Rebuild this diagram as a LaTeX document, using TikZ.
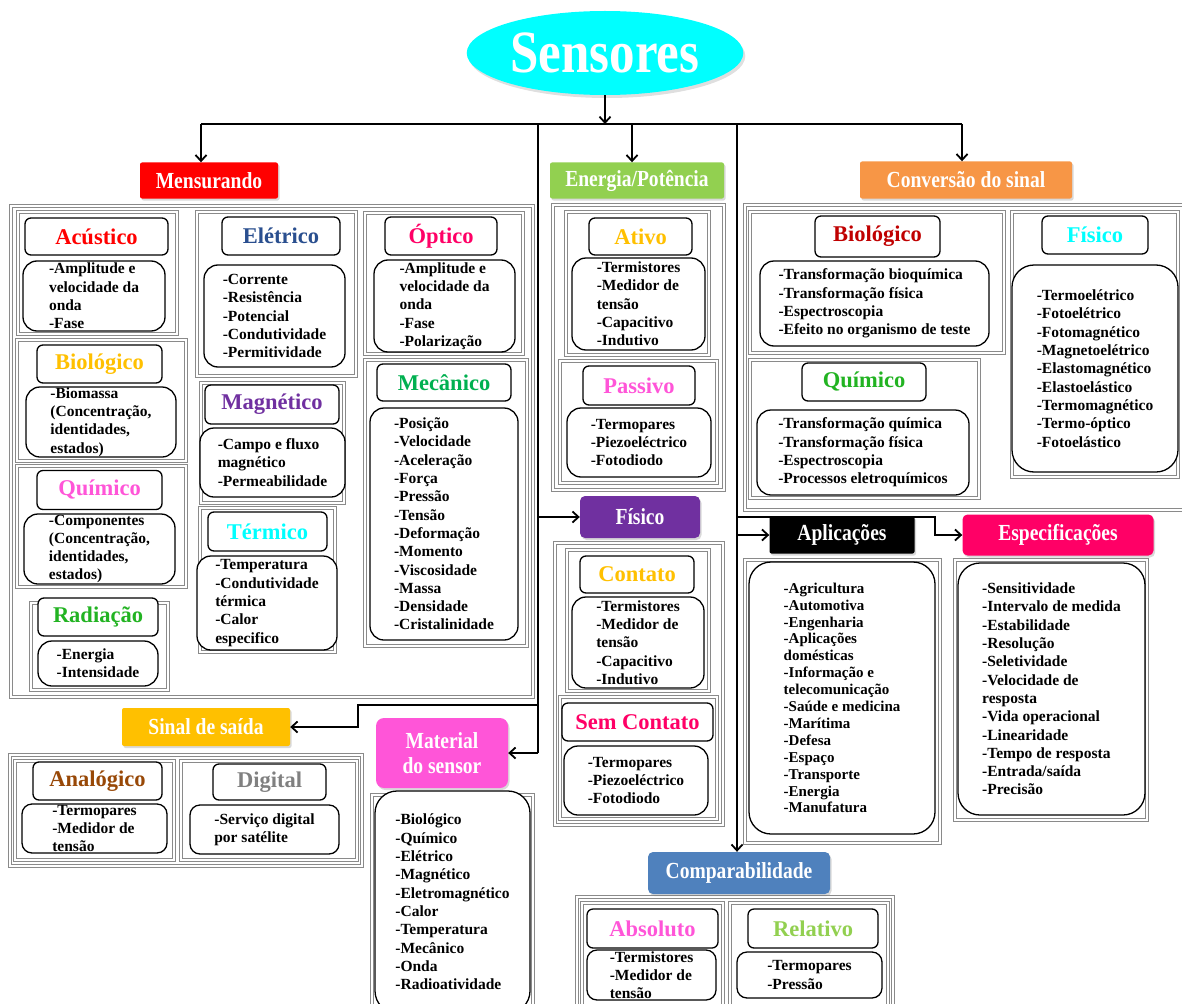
\documentclass[tikz,border=0pt]{standalone}
\usepackage{fontspec}
\setmainfont{Liberation Serif}
\newfontfamily\estreita[FakeStretch=0.85]{Liberation Serif}
\usetikzlibrary{shapes.geometric,arrows.meta,shadows}

\definecolor{ciano}{HTML}{00FFFF}
\definecolor{vermelho}{HTML}{FF0000}
\definecolor{verdeclaro}{HTML}{92D050}
\definecolor{laranja}{HTML}{F79646}
\definecolor{roxo}{HTML}{7030A0}
\definecolor{rosa}{HTML}{FF0066}
\definecolor{ouro}{HTML}{FFC000}
\definecolor{magenta}{HTML}{FF55D8}
\definecolor{azulaco}{HTML}{4F81BD}
\definecolor{azulescuro}{HTML}{2A4F8F}
\definecolor{verde}{HTML}{00B050}
\definecolor{verdevivo}{HTML}{22B322}
\definecolor{vinho}{HTML}{C00000}
\definecolor{marrom}{HTML}{984807}
\definecolor{cinza}{HTML}{808080}
\definecolor{borda}{HTML}{8A8A8A}

\tikzset{
  cabeca/.style={rectangle, rounded corners=2pt, text=white, align=center,
    font=\estreita\bfseries\fontsize{23}{25}\selectfont,
    drop shadow={opacity=0.3, shadow xshift=1.5pt, shadow yshift=-2pt}},
  titulo/.style={draw, line width=1.3pt, rounded corners=6pt, fill=white, inner sep=0pt,
    font=\bfseries\fontsize{22.5}{26}\selectfont},
  lista/.style={draw, line width=1.3pt, rounded corners=14pt, fill=white, inner sep=0pt,
    align=left, font=\bfseries\fontsize{15.5}{18.3}\selectfont},
  moldura/.style={draw=borda, line width=1pt, double=white, double distance=1.1pt},
  linha/.style={line width=1.8pt},
  seta/.style={line width=1.8pt, -{Straight Barb[length=6pt,width=11pt]}}
}

\begin{document}
\begin{tikzpicture}[x=1pt, y=-1pt]
\useasboundingbox (0,0) rectangle (1182,1003);

% molduras
\draw[moldura] (11,206) rectangle (533,697);
\draw[moldura] (18,212) rectangle (177,334);
\draw[moldura] (17,340) rectangle (186,461);
\draw[moldura] (17,466) rectangle (186,587);
\draw[moldura] (31,603) rectangle (168,690);
\draw[moldura] (197,212) rectangle (356,376);
\draw[moldura] (201,383) rectangle (344,503);
\draw[moldura] (200,508) rectangle (335,652);
\draw[moldura] (365,213) rectangle (523,354);
\draw[moldura] (365,360) rectangle (527,646);
\draw[moldura] (553,205) rectangle (724,490);
\draw[moldura] (566,212) rectangle (709,355);
\draw[moldura] (560,361) rectangle (717,483);
\draw[moldura] (555,543) rectangle (723,825);
\draw[moldura] (567,550) rectangle (709,691);
\draw[moldura] (560,697) rectangle (717,819);
\draw[moldura] (745,205) rectangle (1190,510);
\draw[moldura] (750,212) rectangle (1004,353);
\draw[moldura] (750,360) rectangle (979,498);
\draw[moldura] (1012,212) rectangle (1178,477);
\draw[moldura] (745,560) rectangle (940,843);
\draw[moldura] (955,560) rectangle (1147,820);
\draw[moldura] (10,755) rectangle (362,866);
\draw[moldura] (15,761) rectangle (174,860);
\draw[moldura] (181,761) rectangle (357,860);
\draw[moldura] (372,795) rectangle (533,1010);
\draw[moldura] (577,897) rectangle (893,1010);
\draw[moldura] (582,903) rectangle (723,1010);
\draw[moldura] (730,903) rectangle (888,1010);

% cabecalhos
\node[ellipse, fill=ciano, minimum width=272, minimum height=84, text=white,
  font=\estreita\bfseries\fontsize{60}{60}\selectfont,
  drop shadow={opacity=0.25, shadow xshift=2pt, shadow yshift=-3pt}] (sensores) at (605,53) {Sensores};
\node[cabeca, fill=vermelho, minimum width=138, minimum height=36] (mensurando) at (209,180.5) {Mensurando};
\node[cabeca, fill=verdeclaro, minimum width=174, minimum height=36] (energia) at (637,180.5) {Energia/Potência};
\node[cabeca, fill=laranja, minimum width=212, minimum height=37] (conversao) at (966,180) {Conversão do sinal};
\node[cabeca, fill=roxo, rounded corners=5pt, minimum width=120, minimum height=42] (fisico) at (640,517) {Físico};
\node[cabeca, fill=black, minimum width=145, minimum height=37] (aplicacoes) at (842,535) {Aplicações};
\node[cabeca, fill=rosa, rounded corners=5pt, minimum width=191, minimum height=41] (especificacoes) at (1058,535) {Especificações};
\node[cabeca, fill=ouro, minimum width=168, minimum height=38] (sinal) at (206,727) {Sinal de saída};
\node[cabeca, fill=magenta, rounded corners=8pt, minimum width=132, minimum height=70] (material) at (442,753) {Material\\do sensor};
\node[cabeca, fill=azulaco, rounded corners=5pt, minimum width=182, minimum height=42] (comparab) at (739,873) {Comparabilidade};

% ligacoes
\coordinate (barraE) at (201,124);
\coordinate (barraM) at (632,124);
\coordinate (barraD) at (962,124);
\coordinate (troncoA) at (538,124);
\coordinate (troncoB) at (737,124);
\coordinate (desvio) at (358,705);
\coordinate (dobra) at (935,517);
\draw[seta] (sensores.south) -- (sensores.south |- barraE);
\draw[linha] (barraE) -- (barraD);
\draw[seta] (barraE) -- (barraE |- mensurando.north);
\draw[seta] (barraM) -- (barraM |- energia.north);
\draw[seta] (barraD) -- (barraD |- conversao.north);
\draw[linha] (troncoA) -- (troncoA |- material.east);
\draw[seta] (troncoA |- fisico.west) -- (fisico.west);
\draw[seta] (troncoA |- material.east) -- (material.east);
\draw[seta] (troncoA |- desvio) -- (desvio) |- (sinal.east);
\draw[seta] (troncoB) -- (troncoB |- comparab.north);
\draw[seta] (troncoB |- aplicacoes.west) -- (aplicacoes.west);
\draw[seta] (troncoB |- dobra) -- (dobra) |- (especificacoes.west);

% mensurando
\node[titulo, text=vermelho, minimum width=143, minimum height=37] (acusticoT) at (96.5,236.5) {Acústico};
\node[lista, minimum width=142, minimum height=70] (acusticoL) at (94,296) {-Amplitude e\\velocidade da\\onda\\-Fase};
\node[titulo, text=ouro, minimum width=125, minimum height=38] (biologicoT) at (99.5,364) {Biológico};
\node[lista, minimum width=150, minimum height=70] (biologicoL) at (101,422) {-Biomassa\\(Concentração,\\identidades,\\estados)};
\node[titulo, text=magenta, minimum width=125, minimum height=39] (quimicoT) at (99.5,490) {Químico};
\node[lista, minimum width=151, minimum height=70] (quimicoL) at (99.5,549) {-Componentes\\(Concentração,\\identidades,\\estados)};
\node[titulo, text=verdevivo, minimum width=120, minimum height=38] (radiacaoT) at (98,617) {Radiação};
\node[lista, minimum width=120, minimum height=45] (radiacaoL) at (98,663.5) {-Energia\\-Intensidade};
\node[titulo, text=azulescuro, minimum width=118, minimum height=38] (eletricoT) at (281,236) {Elétrico};
\node[lista, minimum width=141, minimum height=102] (eletricoL) at (274.5,316) {-Corrente\\-Resistência\\-Potencial\\-Condutividade\\-Permitividade};
\node[titulo, text=roxo, minimum width=134, minimum height=39] (magneticoT) at (272,404.5) {Magnético};
\node[lista, minimum width=145, minimum height=69] (magneticoL) at (272.5,462.5) {-Campo e fluxo\\magnético\\-Permeabilidade};
\node[titulo, text=ciano, minimum width=119, minimum height=39] (termicoT) at (267.5,531.5) {Térmico};
\node[lista, minimum width=140, minimum height=94] (termicoL) at (267,603) {-Temperatura\\-Condutividade\\térmica\\-Calor\\especifico};
\node[titulo, text=rosa, minimum width=112, minimum height=38] (opticoT) at (441,236) {Óptico};
\node[lista, minimum width=141, minimum height=92] (opticoL) at (444.5,306) {-Amplitude e\\velocidade da\\onda\\-Fase\\-Polarização};
\node[titulo, text=verde, minimum width=134, minimum height=37] (mecanicoT) at (444,382.5) {Mecânico};
\node[lista, minimum width=148, minimum height=232] (mecanicoL) at (444,524) {-Posição\\-Velocidade\\-Aceleração\\-Força\\-Pressão\\-Tensão\\-Deformação\\-Momento\\-Viscosidade\\-Massa\\-Densidade\\-Cristalinidade};

% energia
\node[titulo, text=ouro, minimum width=103, minimum height=37] (ativoT) at (640.5,236.5) {Ativo};
\node[lista, minimum width=133, minimum height=92] (ativoL) at (638.5,304) {-Termistores\\-Medidor de\\tensão\\-Capacitivo\\-Indutivo};
\node[titulo, text=magenta, minimum width=112, minimum height=39] (passivoT) at (639,385.5) {Passivo};
\node[lista, minimum width=144, minimum height=69] (passivoL) at (639,442.5) {-Termopares\\-Piezoeléctrico\\-Fotodiodo};

% fisico
\node[titulo, text=ouro, minimum width=114, minimum height=37] (contatoT) at (637,574.5) {Contato};
\node[lista, minimum width=132, minimum height=91] (contatoL) at (638,642.5) {-Termistores\\-Medidor de\\tensão\\-Capacitivo\\-Indutivo};
\node[titulo, text=rosa, minimum width=151, minimum height=38] (semcontatoT) at (637.5,722) {Sem Contato};
\node[lista, minimum width=144, minimum height=69] (semcontatoL) at (636,780.5) {-Termopares\\-Piezoeléctrico\\-Fotodiodo};

% conversao do sinal
\node[titulo, text=vinho, minimum width=125, minimum height=41] (biologicoCT) at (877.5,236.5) {Biológico};
\node[lista, minimum width=229, minimum height=85] (biologicoCL) at (874.5,303.5) {-Transformação bioquímica\\-Transformação física\\-Espectroscopia\\-Efeito no organismo de teste};
\node[titulo, text=verdevivo, minimum width=124, minimum height=38] (quimicoCT) at (864,382) {Químico};
\node[lista, minimum width=212, minimum height=85] (quimicoCL) at (863,452.5) {-Transformação química\\-Transformação física\\-Espectroscopia\\-Processos eletroquímicos};
\node[titulo, text=ciano, minimum width=106, minimum height=38] (fisicoCT) at (1095,235) {Físico};
\node[lista, rounded corners=22pt, minimum width=166, minimum height=207] (fisicoCL) at (1095,368.5) {-Termoelétrico\\-Fotoelétrico\\-Fotomagnético\\-Magnetoelétrico\\-Elastomagnético\\-Elastoelástico\\-Termomagnético\\-Termo-óptico\\-Fotoelástico};

% aplicacoes e especificacoes
\node[lista, rounded corners=22pt, minimum width=186, minimum height=272,
  font=\bfseries\fontsize{15}{16.9}\selectfont] (aplicacoesL) at (842,698) {-Agricultura\\-Automotiva\\-Engenharia\\-Aplicações\\domésticas\\-Informação e\\telecomunicação\\-Saúde e medicina\\-Marítima\\-Defesa\\-Espaço\\-Transporte\\-Energia\\-Manufatura};
\node[lista, rounded corners=22pt, minimum width=187, minimum height=252] (especificacoesL) at (1051.5,689) {-Sensitividade\\-Intervalo de medida\\-Estabilidade\\-Resolução\\-Seletividade\\-Velocidade de\\resposta\\-Vida operacional\\-Linearidade\\-Tempo de resposta\\-Entrada/saída\\-Precisão};

% sinal de saida
\node[titulo, text=marrom, minimum width=129, minimum height=38] (analogicoT) at (97.5,781) {Analógico};
\node[lista, rounded corners=10pt, minimum width=145, minimum height=49] (analogicoL) at (94.5,828.5) {-Termopares\\-Medidor de\\tensão};
\node[titulo, text=cinza, minimum width=113, minimum height=36] (digitalT) at (269.5,782) {Digital};
\node[lista, rounded corners=10pt, minimum width=149, minimum height=49] (digitalL) at (264.5,829.5) {-Serviço digital\\por satélite};

% material do sensor
\node[lista, rounded corners=22pt, minimum width=155, minimum height=222] (materialL) at (452.5,902) {-Biológico\\-Químico\\-Elétrico\\-Magnético\\-Eletromagnético\\-Calor\\-Temperatura\\-Mecânico\\-Onda\\-Radioatividade};

% comparabilidade
\node[titulo, text=magenta, minimum width=131, minimum height=39] (absolutoT) at (652.5,928.5) {Absoluto};
\node[lista, rounded corners=10pt, minimum width=129, minimum height=50] (absolutoL) at (651.5,975) {-Termistores\\-Medidor de\\tensão};
\node[titulo, text=verdeclaro, minimum width=130, minimum height=39] (relativoT) at (813,928.5) {Relativo};
\node[lista, rounded corners=10pt, minimum width=145, minimum height=46] (relativoL) at (809.5,975) {-Termopares\\-Pressão};

\end{tikzpicture}
\end{document}
